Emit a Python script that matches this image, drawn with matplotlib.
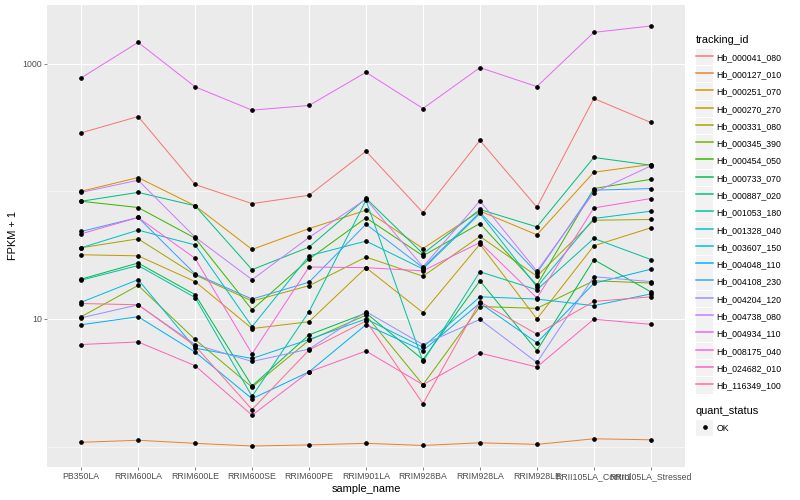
import numpy as np
import matplotlib
matplotlib.use("Agg")
import matplotlib.pyplot as plt
from matplotlib.legend_handler import HandlerLine2D
from matplotlib.lines import Line2D
from matplotlib.patches import Rectangle

plt.rcParams["font.family"] = ["Liberation Sans", "DejaVu Sans"]

samples = ["PB350LA", "RRIM600LA", "RRIM600LE", "RRIM600SE", "RRIM600PE",
           "RRIM901LA", "RRIM928BA", "RRIM928LA", "RRIM928LE",
           "RRII105LA_Control", "RRII105LA_Stressed"]

# FPKM + 1 per sample
hb_000041_080 = [287, 385, 113, 80, 93, 206, 68, 250, 75, 533, 346]
hb_000127_010 = [1.08, 1.12, 1.06, 1.01, 1.03, 1.06, 1.02, 1.07, 1.04, 1.15, 1.13]
hb_000251_070 = [100, 128, 77, 35, 51, 71, 35.6, 70, 45.6, 141, 162]
hb_000270_270 = [31.8, 31.2, 19.6, 8.4, 9.5, 25.2, 11.2, 38.5, 10.0, 37.4, 51.7]
hb_000331_080 = [36.1, 42.4, 22.1, 13.8, 18.2, 30.5, 21.6, 44.3, 21.6, 59.3, 60.1]
hb_000345_390 = [10.4, 18.3, 6.9, 2.92, 6.8, 10.7, 3.05, 12.5, 12.1, 19.9, 19.1]
hb_000454_050 = [83.5, 74.6, 42.9, 11.8, 29.4, 61.9, 31.2, 55.9, 18.4, 105, 124]
hb_000733_070 = [20.5, 27.4, 15.5, 2.98, 7.5, 11.1, 4.8, 19.9, 5.65, 29.1, 16.3]
hb_000887_020 = [83.5, 98, 77, 24.3, 36.5, 88, 32.4, 72, 52.6, 184, 160]
hb_001053_180 = [20.1, 26.2, 14.7, 2.47, 11.4, 85, 4.64, 23.4, 16.9, 42.7, 29.2]
hb_001328_040 = [36.1, 49.6, 38.0, 8.7, 31.2, 40.7, 24.6, 67, 17.8, 61.2, 69.8]
hb_003607_150 = [13.5, 20.3, 5.9, 4.9, 6.9, 10.0, 6.0, 14.9, 14.3, 12.7, 15.7]
hb_004048_110 = [9.0, 10.4, 5.5, 2.37, 3.85, 9.0, 5.65, 13.3, 6.5, 19.0, 24.5]
hb_004108_230 = [48.4, 62.3, 22.5, 14.3, 19.4, 55.2, 25.2, 68.5, 22.9, 102, 105]
hb_004204_120 = [10.2, 12.9, 6.3, 4.64, 5.8, 11.4, 6.3, 9.9, 4.56, 21.4, 19.6]
hb_004738_080 = [98, 122, 43.7, 20.3, 43.5, 86.6, 25.6, 84, 23.7, 97.7, 158]
hb_004934_110 = [773, 1467, 658, 432, 470, 855, 445, 930, 661, 1757, 1971]
hb_008175_040 = [46.4, 62.3, 29.8, 5.33, 25.5, 25.2, 23.8, 39.7, 14.6, 74, 87.7]
hb_024682_010 = [6.3, 6.6, 4.3, 1.76, 3.85, 5.6, 3.05, 5.4, 4.2, 9.95, 9.06]
hb_116349_100 = [13.2, 12.9, 6.15, 1.95, 5.7, 9.65, 2.17, 13.6, 7.6, 13.7, 14.9]

tracking_ids = ["Hb_000041_080", "Hb_000127_010", "Hb_000251_070", "Hb_000270_270",
                "Hb_000331_080", "Hb_000345_390", "Hb_000454_050", "Hb_000733_070",
                "Hb_000887_020", "Hb_001053_180", "Hb_001328_040", "Hb_003607_150",
                "Hb_004048_110", "Hb_004108_230", "Hb_004204_120", "Hb_004738_080",
                "Hb_004934_110", "Hb_008175_040", "Hb_024682_010", "Hb_116349_100"]
series = [hb_000041_080, hb_000127_010, hb_000251_070, hb_000270_270, hb_000331_080,
          hb_000345_390, hb_000454_050, hb_000733_070, hb_000887_020, hb_001053_180,
          hb_001328_040, hb_003607_150, hb_004048_110, hb_004108_230, hb_004204_120,
          hb_004738_080, hb_004934_110, hb_008175_040, hb_024682_010, hb_116349_100]

# ggplot2 default hue palette for 20 groups
colors = ["#F8766D", "#EA8331", "#D89000", "#C09B00", "#A3A500", "#7CAE00", "#39B600",
          "#00BB4E", "#00BF7D", "#00C1A3", "#00BFC4", "#00BAE0", "#00B0F6", "#35A2FF",
          "#9590FF", "#C77CFF", "#E76BF3", "#FA62DB", "#FF62BC", "#FF6C91"]

FS = 8.8
SPACING = 0.745


class KeyBox(HandlerLine2D):
    # grey ggplot-style key square behind each legend line
    def create_artists(self, legend, orig_handle, xdescent, ydescent,
                       width, height, fontsize, trans):
        extra = SPACING * fontsize - 0.8
        box = Rectangle((-xdescent, -ydescent - extra / 2), width, height + extra,
                        facecolor="#F2F2F2", edgecolor="none", transform=trans)
        arts = super().create_artists(legend, orig_handle, xdescent, ydescent,
                                      width, height, fontsize, trans)
        for a in arts:
            a.set_zorder(3)
        return [box] + arts


DPI = 72
fig = plt.figure(figsize=(800 / DPI, 500 / DPI), dpi=DPI)
ax = fig.add_axes([47 / 800, 33 / 500, 638 / 800, 462 / 500])
ax.set_facecolor("#EBEBEB")
for s in ax.spines.values():
    s.set_visible(False)

x = np.arange(len(samples))
handles = []
for vals, col in zip(series, colors):
    ax.plot(x, vals, color=col, lw=1.0, zorder=2)
    handles.append(Line2D([], [], color=col, lw=1.5))
for vals in series:
    ax.plot(x, vals, linestyle="none", marker="o", ms=3.6, color="black", zorder=3)

ax.set_yscale("log")
allv = np.log10(np.concatenate([np.array(v, dtype=float) for v in series]))
lo, hi = allv.min(), allv.max()
pad = (hi - lo) * 0.05
ax.set_ylim(10 ** (lo - pad), 10 ** (hi + pad))
ax.set_xlim(-0.6, len(samples) - 0.4)

ax.set_yticks([10, 1000])
ax.set_yticklabels(["10", "1000"])
ax.set_yticks([1, 100], minor=True)
ax.set_yticklabels([], minor=True)
ax.set_xticks(x)
ax.set_xticklabels(samples)

ax.grid(which="major", color="white", lw=1.1, zorder=0)
ax.grid(which="minor", axis="y", color="white", lw=0.55, zorder=0)
ax.set_axisbelow(True)
ax.tick_params(which="major", length=2.75, width=0.6, color="#333333",
               labelcolor="#4D4D4D", labelsize=FS, pad=2.2)
ax.tick_params(which="minor", length=0)

ax.set_xlabel("sample_name", fontsize=11, color="black", labelpad=3)
ax.set_ylabel("FPKM + 1", fontsize=11, color="black", labelpad=4)

leg_kw = dict(loc="upper left", frameon=False, fontsize=FS, title_fontsize=11,
              handlelength=1.95, handleheight=1.5, labelspacing=SPACING,
              handletextpad=0.4, borderpad=0, borderaxespad=0,
              alignment="left", handler_map={Line2D: KeyBox()})

leg1 = fig.legend(handles, tracking_ids, title="tracking_id",
                  bbox_to_anchor=(696 / 800, 1 - 35 / 500), **leg_kw)

ok = Line2D([], [], linestyle="none", marker="o", ms=3.6, color="black")
leg2 = fig.legend([ok], ["OK"], title="quant_status",
                  bbox_to_anchor=(696 / 800, 1 - 406 / 500), **leg_kw)

fig.savefig("out.png", dpi=DPI)
